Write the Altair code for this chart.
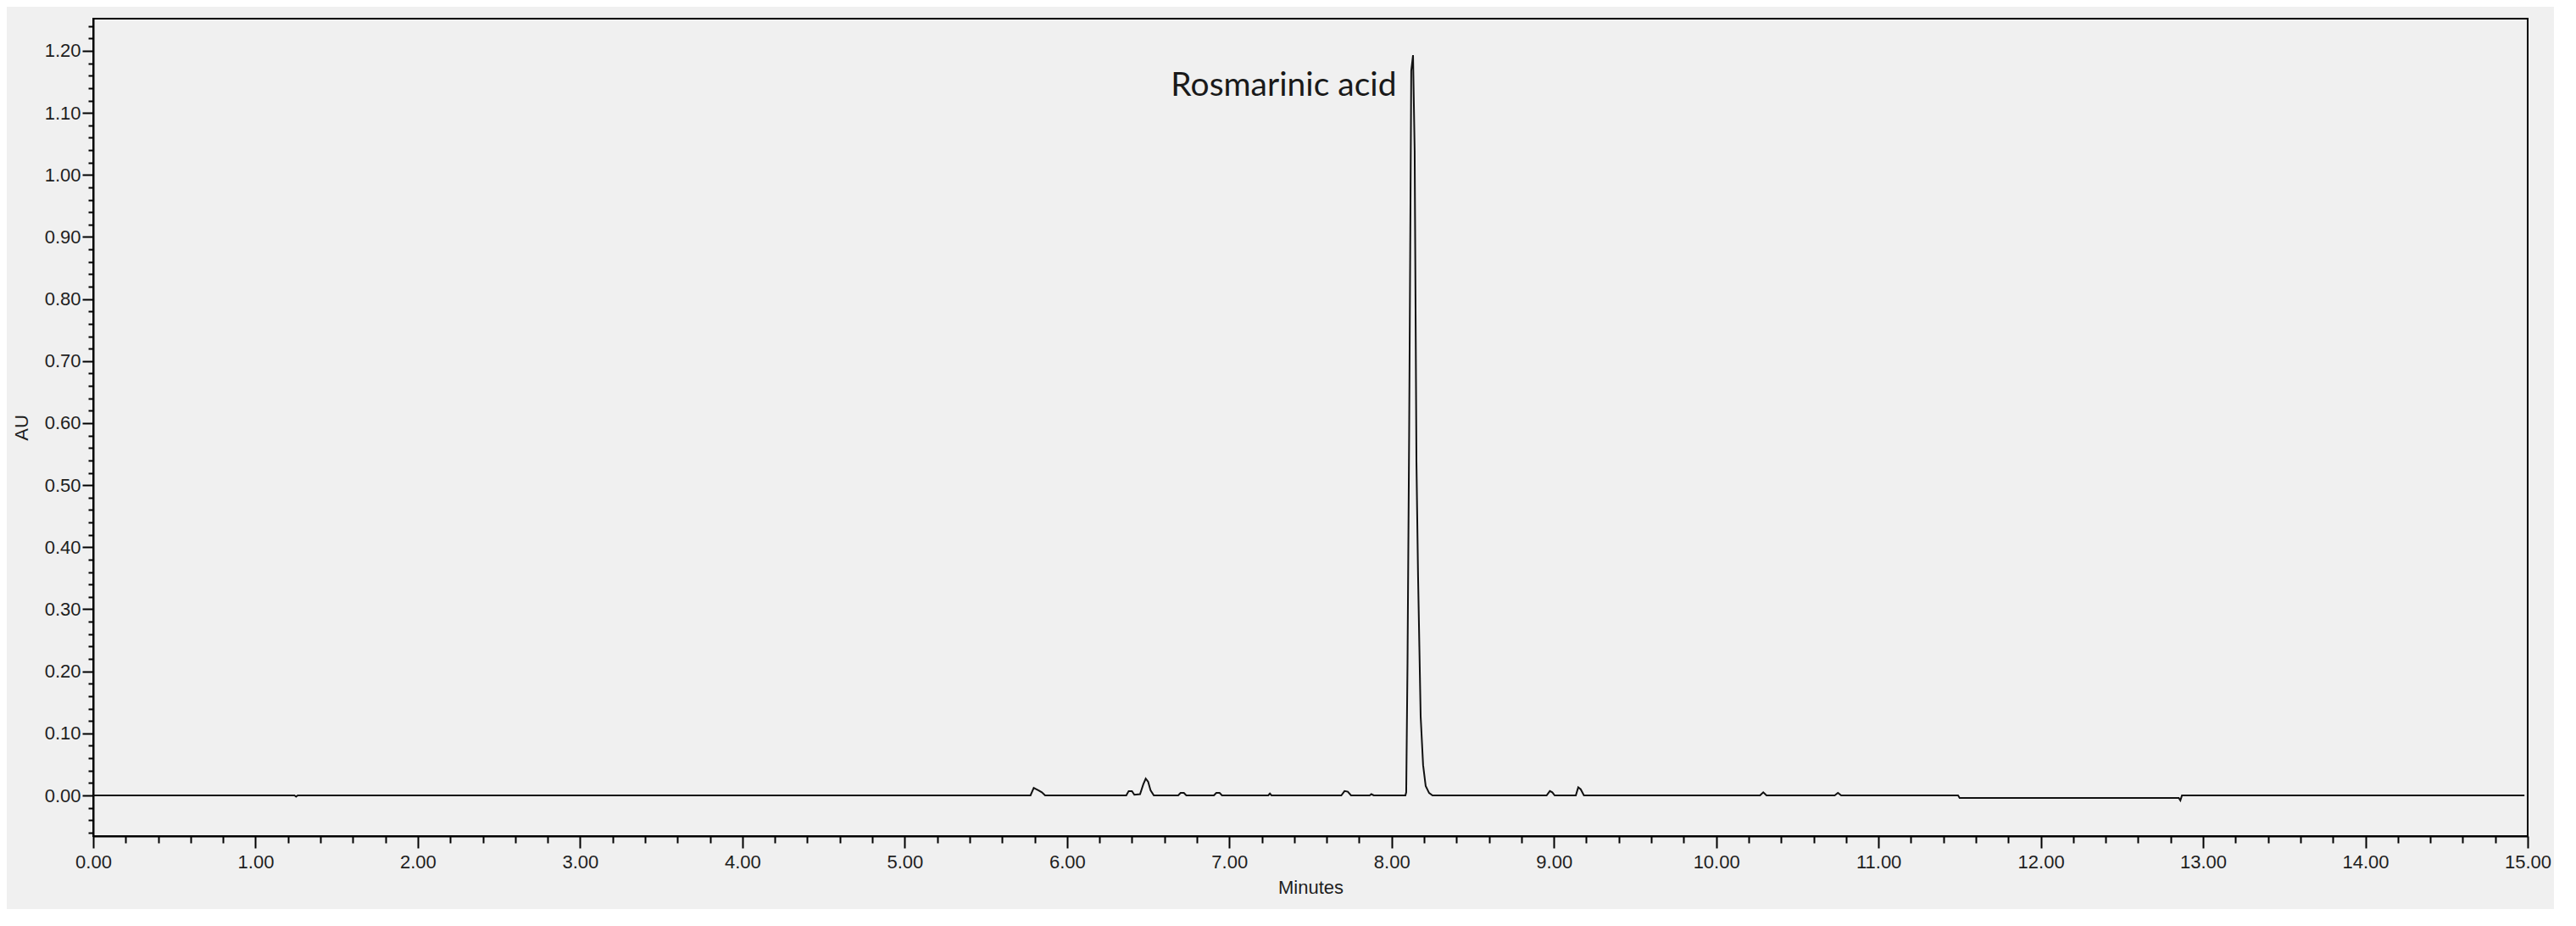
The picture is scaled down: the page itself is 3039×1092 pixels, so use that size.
import altair as alt
import pandas as pd

# Chromatogram trace (retention time in minutes, absorbance in AU)
times = [0.00, 1.24, 1.25, 1.26,
         5.775, 5.795, 5.81, 5.825, 5.845, 5.865,
         6.365, 6.38, 6.40, 6.415, 6.45, 6.47, 6.485, 6.50, 6.515, 6.535,
         6.685, 6.70, 6.72, 6.735,
         6.905, 6.92, 6.94, 6.955,
         7.24, 7.25, 7.26,
         7.69, 7.71, 7.73, 7.75,
         7.865, 7.875, 7.89,
         8.085, 8.090, 8.098, 8.108, 8.121, 8.132, 8.142, 8.153, 8.163,
         8.179, 8.194, 8.210, 8.231, 8.252,
         8.955, 8.975, 8.99, 9.005,
         9.135, 9.15, 9.165, 9.185,
         10.27, 10.29, 10.31,
         10.73, 10.75, 10.77,
         11.49, 11.50,
         12.85, 12.86, 12.87,
         14.98]
values = [0.000, 0.000, -0.002, 0.000,
          0.000, 0.012, 0.010, 0.008, 0.005, 0.000,
          0.000, 0.007, 0.007, 0.001, 0.002, 0.018, 0.027, 0.022, 0.008, 0.000,
          0.000, 0.004, 0.004, 0.000,
          0.000, 0.004, 0.004, 0.000,
          0.000, 0.003, 0.000,
          0.000, 0.007, 0.006, 0.000,
          0.000, 0.002, 0.000,
          0.000, 0.005, 0.213, 0.581, 1.168, 1.193, 1.039, 0.537, 0.353,
          0.127, 0.049, 0.015, 0.004, 0.000,
          0.000, 0.007, 0.005, 0.000,
          0.000, 0.013, 0.010, 0.000,
          0.000, 0.005, 0.000,
          0.000, 0.004, 0.000,
          0.000, -0.004,
          -0.004, -0.008, 0.000,
          0.000]

# Peak annotation
label_text = ["Rosmarinic acid"]
label_x = [8.03]
label_y = [1.127]

# Axis ticks (major + minor)
x_ticks = [round(0.2 * i, 1) for i in range(76)]
y_ticks = [round(-0.06 + 0.02 * i, 2) for i in range(66)]

trace = pd.DataFrame({"t": times, "au": values})
labels = pd.DataFrame({"t": label_x, "au": label_y, "text": label_text})

AXIS_FONT = "Liberation Sans"

x_enc = alt.X(
    "t:Q",
    scale=alt.Scale(domain=[0, 15], nice=False, zero=False),
    axis=alt.Axis(
        title="Minutes",
        values=x_ticks,
        tickCount=200,
        labelExpr="round(datum.value * 10) % 10 === 0 ? format(datum.value, '.2f') : ''",
        tickSize={"condition": {"test": "round(datum.value * 10) % 10 === 0", "value": 14}, "value": 8},
        labelOverlap=False,
        labelFlush=False,
        labelPadding=6,
        titleY=60,
        titleBaseline="middle",
        grid=False,
    ),
)
y_enc = alt.Y(
    "au:Q",
    scale=alt.Scale(domain=[-0.0656, 1.2519], nice=False, zero=False),
    axis=alt.Axis(
        title="AU",
        values=y_ticks,
        tickCount=200,
        labelExpr="round(datum.value * 100) % 10 === 0 ? format(datum.value, '.2f') : ''",
        tickSize={"condition": {"test": "round(datum.value * 100) % 10 === 0", "value": 13}, "value": 6},
        labelOverlap=False,
        labelPadding=2,
        titleX=-85,
        titleY=482,
        titleBaseline="middle",
        titleAlign="center",
        grid=False,
    ),
)

line = alt.Chart(trace).mark_line(color="#111111", strokeWidth=2).encode(x=x_enc, y=y_enc)

text = alt.Chart(labels).mark_text(
    align="right", baseline="alphabetic", font="Lato", fontSize=39, color="#1a1a1a"
).encode(x="t:Q", y="au:Q", text="text:N")

chart = (
    alt.layer(line, text)
    .properties(
        width=2872,
        height=964,
        background="#f0f0f0",
        padding={"left": 102, "top": 14, "right": 31, "bottom": 86},
        autosize=alt.AutoSizeParams(type="none"),
    )
    .configure_view(stroke="#000000", strokeWidth=2, fill="#f0f0f0")
    .configure_axis(
        domainColor="#000000",
        domainWidth=2,
        tickColor="#000000",
        tickWidth=2,
        labelFont=AXIS_FONT,
        labelFontSize=22,
        labelColor="#1e1e1e",
        titleFont=AXIS_FONT,
        titleFontSize=22,
        titleFontWeight="normal",
        titleColor="#1e1e1e",
    )
)

chart.save("out.html", embed_options={"renderer": "svg", "actions": False})
